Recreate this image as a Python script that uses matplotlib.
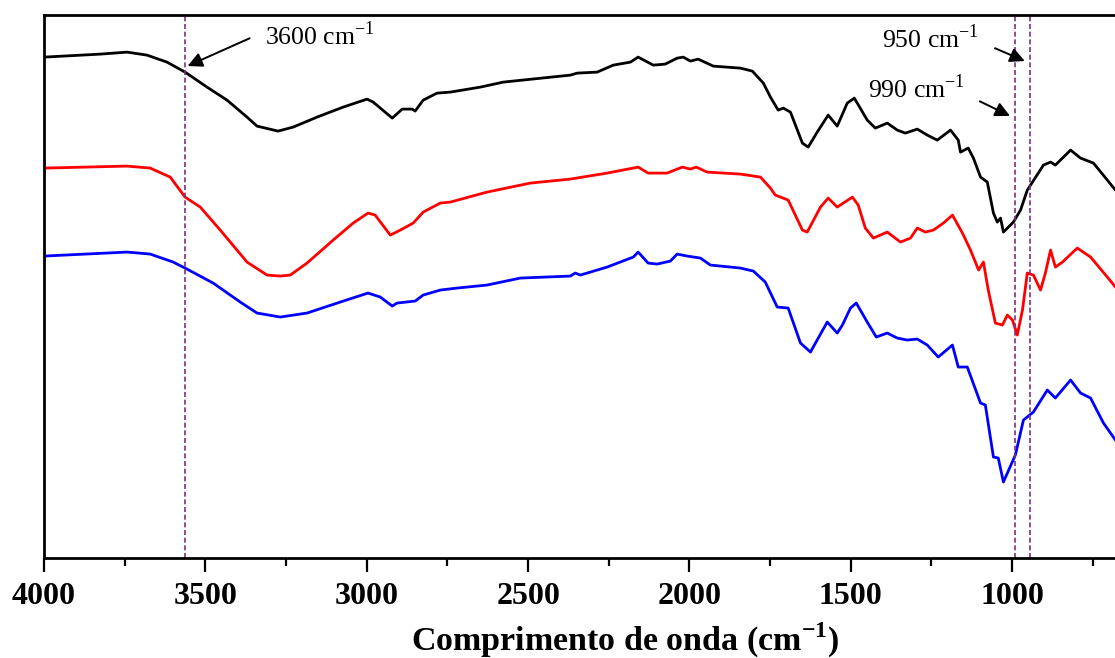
import matplotlib
matplotlib.use("Agg")
import matplotlib.pyplot as plt
from matplotlib.ticker import MultipleLocator

plt.rcParams["font.family"] = ["Liberation Serif", "DejaVu Serif"]
plt.rcParams["mathtext.fontset"] = "custom"
plt.rcParams["mathtext.rm"] = "Liberation Serif"
plt.rcParams["mathtext.bf"] = "Liberation Serif:bold"

# Spectra (wavenumber in cm-1, transmittance in arbitrary units, curves offset)
wn_black = [4000, 3826, 3743, 3681, 3619, 3563, 3495, 3433, 3371, 3340, 3275, 3228, 3154, 3073,
            2999, 2980, 2921, 2890, 2859, 2850, 2825, 2782, 2741, 2648, 2577, 2369, 2348, 2286,
            2236, 2183, 2159, 2112, 2075, 2038, 2019, 1997, 1973, 1926, 1842, 1805, 1771, 1749,
            1725, 1709, 1687, 1650, 1632, 1604, 1570, 1542, 1511, 1489, 1449, 1424, 1387, 1356,
            1331, 1294, 1263, 1232, 1191, 1167, 1160, 1136, 1120, 1098, 1077, 1058, 1046, 1036,
            1027, 996, 974, 953, 903, 881, 866, 819, 788, 748, 705, 680]
t_black = [50.1, 50.4, 50.6, 50.3, 49.6, 48.6, 47.1, 45.8, 44.1, 43.2, 42.7, 43.1, 44.1, 45.1,
           45.9, 45.6, 44.0, 44.9, 44.9, 44.7, 45.8, 46.5, 46.6, 47.1, 47.6, 48.3, 48.5, 48.6,
           49.3, 49.6, 50.1, 49.3, 49.4, 50.0, 50.1, 49.7, 49.9, 49.2, 49.0, 48.7, 47.5, 46.1,
           44.8, 45.0, 44.6, 41.5, 41.1, 42.6, 44.3, 43.2, 45.5, 46.0, 43.8, 43.0, 43.5, 42.8,
           42.5, 42.9, 42.3, 41.8, 42.8, 41.8, 40.6, 41.0, 40.0, 38.1, 37.6, 34.5, 33.6, 34.0,
           32.6, 33.6, 34.8, 36.8, 39.3, 39.6, 39.3, 40.8, 40.0, 39.5, 37.8, 36.8]

wn_red = [4000, 3743, 3671, 3609, 3563, 3516, 3454, 3371, 3309, 3268, 3237, 3185, 3104, 3042,
          2996, 2974, 2927, 2896, 2856, 2825, 2772, 2741, 2627, 2493, 2369, 2255, 2159, 2128,
          2069, 2022, 1997, 1979, 1945, 1842, 1780, 1749, 1734, 1694, 1650, 1635, 1594, 1570,
          1542, 1495, 1477, 1455, 1430, 1387, 1346, 1315, 1294, 1269, 1244, 1213, 1185, 1154,
          1129, 1104, 1089, 1074, 1052, 1030, 1015, 999, 984, 968, 953, 934, 912, 897, 881,
          866, 844, 798, 757, 705, 680]
t_red = [39.0, 39.2, 39.0, 38.1, 36.1, 35.1, 32.8, 29.6, 28.3, 28.2, 28.3, 29.5, 31.8, 33.5,
         34.5, 34.3, 32.3, 32.8, 33.5, 34.6, 35.5, 35.6, 36.6, 37.5, 37.9, 38.5, 39.1, 38.5,
         38.5, 39.1, 38.9, 39.1, 38.6, 38.4, 38.1, 37.0, 36.3, 35.8, 32.8, 32.6, 35.1, 36.0,
         35.1, 36.1, 35.3, 33.0, 32.0, 32.6, 31.6, 32.0, 33.0, 32.6, 32.8, 33.5, 34.3, 32.5,
         30.8, 28.8, 29.6, 26.8, 23.5, 23.3, 24.3, 23.8, 22.3, 24.8, 28.5, 28.3, 26.8, 28.5,
         30.8, 29.1, 29.6, 31.0, 30.1, 28.1, 27.1]

wn_blue = [4000, 3743, 3671, 3600, 3563, 3476, 3392, 3340, 3268, 3185, 3082, 2996, 2958, 2921,
           2906, 2850, 2825, 2772, 2720, 2627, 2524, 2369, 2354, 2338, 2255, 2174, 2159, 2128,
           2100, 2059, 2038, 2007, 1966, 1935, 1842, 1802, 1765, 1728, 1694, 1656, 1625, 1573,
           1542, 1526, 1501, 1483, 1449, 1421, 1387, 1356, 1325, 1294, 1263, 1229, 1185, 1167,
           1139, 1098, 1083, 1058, 1043, 1027, 990, 965, 934, 891, 866, 819, 788, 757, 717, 680]
t_blue = [30.2, 30.6, 30.4, 29.6, 29.0, 27.5, 25.6, 24.5, 24.1, 24.5, 25.6, 26.5, 26.1, 25.2,
          25.5, 25.7, 26.3, 26.8, 27.0, 27.3, 28.0, 28.2, 28.5, 28.3, 29.1, 30.1, 30.6, 29.5,
          29.4, 29.7, 30.4, 30.2, 30.0, 29.3, 29.0, 28.7, 27.6, 25.1, 25.0, 21.5, 20.6, 23.6,
          22.5, 23.3, 25.0, 25.5, 23.6, 22.1, 22.5, 22.0, 21.8, 21.9, 21.3, 20.1, 21.3, 19.1,
          19.1, 15.5, 15.3, 10.1, 10.0, 7.6, 10.3, 13.8, 14.6, 16.8, 16.0, 17.8, 16.5, 16.0,
          13.5, 11.8]

# marked bands (dashed guides) and their labels
band_lines = [3563, 990, 946]
band_labels = ["3600", "950", "990"]
x_ticks = [4000, 3500, 3000, 2500, 2000, 1500, 1000]

fig = plt.figure(figsize=(11.15, 6.58), dpi=100)
ax = fig.add_axes([0.0395, 0.152, 1.0419, 0.825])

ax.plot(wn_black, t_black, color="black", lw=2.0)
ax.plot(wn_red, t_red, color="#ff0000", lw=2.0)
ax.plot(wn_blue, t_blue, color="#0000ff", lw=2.0)

for b in band_lines:
    ax.axvline(b, color="#7f2f7f", lw=1.2, ls=(0, (3, 1.6)))

ax.set_xlim(4000, 400)
ax.set_ylim(0, 54.3)

# annotations: label text + arrow pointing at the dashed line
arrow = dict(arrowstyle="-|>", color="black", lw=1.4, mutation_scale=22)
ax.text(3315, 51.3, band_labels[0] + r" cm$^{\mathrm{-1}}$", fontsize=18.5, ha="left", va="baseline")
ax.annotate("", xy=(3563, 49.1), xytext=(3355, 52.1), arrowprops=arrow)
ax.text(1402, 51.0, band_labels[1] + r" cm$^{\mathrm{-1}}$", fontsize=18.5, ha="left", va="baseline")
ax.annotate("", xy=(953, 49.6), xytext=(1061, 51.1), arrowprops=arrow)
ax.text(1446, 46.0, band_labels[2] + r" cm$^{\mathrm{-1}}$", fontsize=18.5, ha="left", va="baseline")
ax.annotate("", xy=(999, 44.1), xytext=(1108, 45.8), arrowprops=arrow)

ax.set_xticks(x_ticks)
ax.xaxis.set_minor_locator(MultipleLocator(250))
ax.tick_params(axis="x", which="major", direction="out", length=10, width=1.6, pad=7)
ax.tick_params(axis="x", which="minor", direction="out", length=5.5, width=1.6)
ax.set_yticks([])
for lab in ax.get_xticklabels():
    lab.set_fontsize(23)
    lab.set_fontweight("bold")

for side in ["left", "bottom", "top", "right"]:
    ax.spines[side].set_linewidth(2.0)

ax.set_xlabel(r"Comprimento de onda (cm$^{\mathbf{-1}}$)", fontsize=24.5, fontweight="bold",
              va="baseline")
ax.xaxis.set_label_coords(0.5, -0.1713)

fig.savefig("out.png", dpi=100)
